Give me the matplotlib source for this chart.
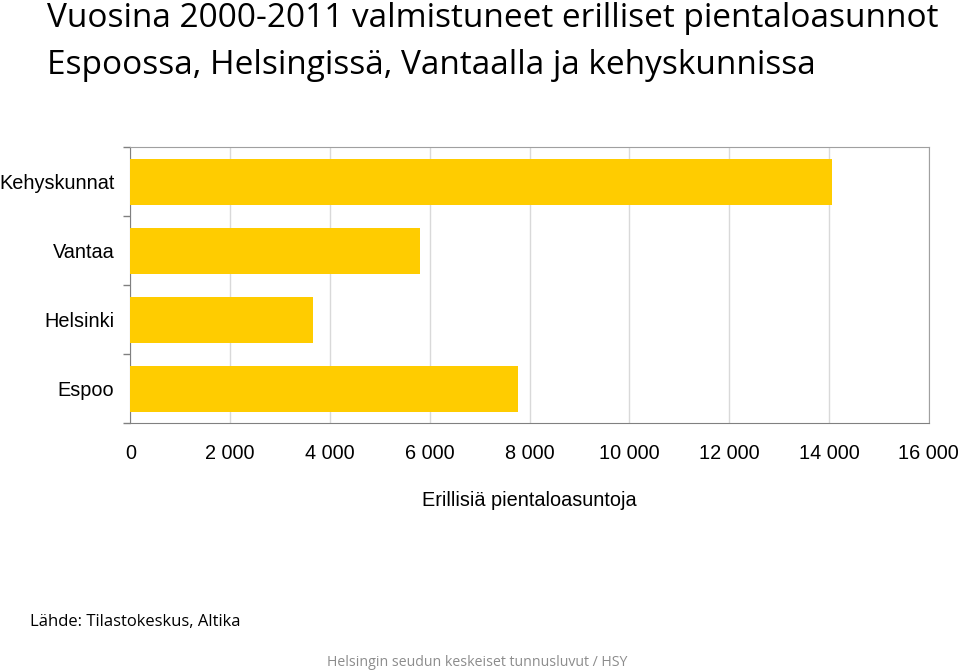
import matplotlib
matplotlib.use("Agg")
import matplotlib.pyplot as plt
import numpy as np

categories = ["Espoo", "Helsinki", "Vantaa", "Kehyskunnat"]
values = [7770, 3655, 5805, 14060]
xticks = [0, 2000, 4000, 6000, 8000, 10000, 12000, 14000, 16000]
xtick_labels = ["0", "2 000", "4 000", "6 000", "8 000", "10 000", "12 000", "14 000", "16 000"]

title_lines = ["Vuosina 2000-2011 valmistuneet erilliset pientaloasunnot",
               "Espoossa, Helsingissä, Vantaalla ja kehyskunnissa"]
xlabel = "Erillisiä pientaloasuntoja"
source = "Lähde: Tilastokeskus, Altika"
footer = "Helsingin seudun keskeiset tunnusluvut / HSY"

W, H = 960, 670
fig = plt.figure(figsize=(W / 100, H / 100), dpi=100)
ax = fig.add_axes([130.3 / W, 1 - 423.3 / H, (928.7 - 130.3) / W, (423.3 - 147.3) / H])

y = np.arange(len(categories))
ax.barh(y, values, height=0.66, color="#FFCC00", zorder=3)
ax.set_xlim(0, 16000)
ax.set_ylim(-0.5, len(categories) - 0.5)

fs = 14.3
ax.set_xticks(xticks)
ax.set_xticklabels(xtick_labels, fontfamily="Liberation Sans", fontsize=fs)
ax.tick_params(axis="x", length=0, pad=15)
ax.xaxis.grid(True, color="#d9d9d9", linewidth=1, zorder=0)

ax.set_yticks(y)
ax.set_yticklabels(categories, fontfamily="Liberation Sans", fontsize=fs)
ax.tick_params(axis="y", which="major", length=0, pad=11.5)
ax.set_yticks(np.arange(-0.5, len(categories)), minor=True)
ax.tick_params(axis="y", which="minor", length=5, color="#808080", width=1)

for side in ["left", "bottom"]:
    ax.spines[side].set_color("#808080")
for side in ["top", "right"]:
    ax.spines[side].set_color("#a0a0a0")

ax.set_xlabel(xlabel, fontfamily="Liberation Sans", fontsize=fs, labelpad=20)

fig.text(47 / W, 1 - 27 / H, title_lines[0], fontfamily="Open Sans", fontsize=24,
         va="baseline", ha="left", color="black")
fig.text(47 / W, 1 - 74 / H, title_lines[1], fontfamily="Open Sans", fontsize=24,
         va="baseline", ha="left", color="black")
fig.text(30 / W, 1 - 622 / H, source, fontfamily="Open Sans", fontsize=12,
         va="center", ha="left", color="black")
fig.text(627 / W, 1 - 662 / H, footer, fontfamily="Open Sans", fontsize=10.15,
         va="center", ha="right", color="#8c8c8c")

fig.savefig("out.png", dpi=100)
